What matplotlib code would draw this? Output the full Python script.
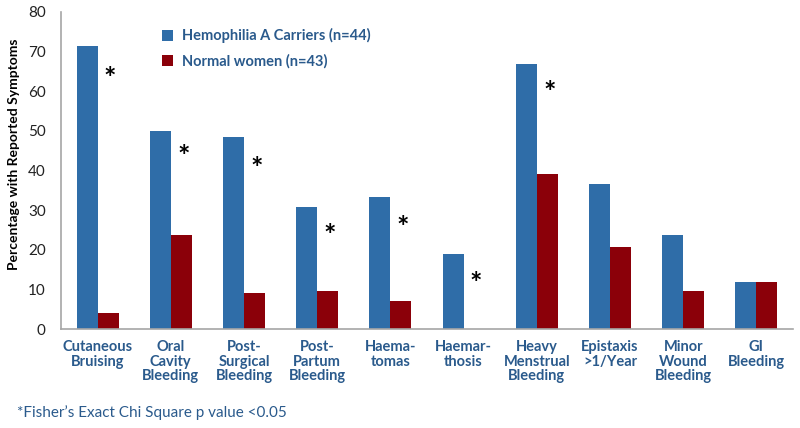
import matplotlib
matplotlib.use("Agg")
import matplotlib.pyplot as plt
import numpy as np

categories = ["Cutaneous\nBruising", "Oral\nCavity\nBleeding", "Post-\nSurgical\nBleeding",
              "Post-\nPartum\nBleeding", "Haema-\ntomas", "Haemar-\nthosis",
              "Heavy\nMenstrual\nBleeding", "Epistaxis\n>1/Year", "Minor\nWound\nBleeding",
              "GI\nBleeding"]
carriers = [71.4, 50.0, 48.4, 30.9, 33.3, 19.0, 66.9, 36.6, 23.8, 11.9]
normal = [4.0, 23.8, 9.1, 9.7, 7.0, 0.0, 39.1, 20.6, 9.5, 11.9]
star_height = [63, 43.5, 40.5, 23.5, 25.5, 11.5, 59.5, None, None, None]
yticks = [0, 10, 20, 30, 40, 50, 60, 70, 80]

blue = "#2F6DA8"
red = "#8B0009"
label_blue = "#2A5A8C"

plt.rcParams['font.family'] = ['Lato', 'DejaVu Sans']

fig = plt.figure(figsize=(8, 4.28), dpi=100)
ax = fig.add_axes([0.07625, 0.231, 0.915, 0.741])

x = np.arange(len(categories))
w = 0.287
ax.bar(x - w / 2, carriers, w, color=blue, label="Hemophilia A Carriers (n=44)")
ax.bar(x + w / 2, normal, w, color=red, label="Normal women (n=43)")

for xi, s in zip(x, star_height):
    if s is not None:
        ax.text(xi + 0.17, s, "*", ha="center", va="center", fontsize=21,
                fontweight="bold", color="black")

ax.set_xlim(-0.5, len(categories) - 0.5)
ax.set_ylim(0, 80)
ax.set_yticks(yticks)
ax.set_yticklabels([str(t) for t in yticks], fontsize=11, color="#222222")
ax.set_xticks(x)
ax.set_xticklabels(categories, fontsize=10.5, fontweight="bold", color=label_blue,
                   linespacing=1.05)
ax.tick_params(axis="both", length=0)
ax.tick_params(axis="y", pad=11)
ax.tick_params(axis="x", pad=8)
for sp in ["top", "right"]:
    ax.spines[sp].set_visible(False)
for sp in ["left", "bottom"]:
    ax.spines[sp].set_color("#A6A6A6")
    ax.spines[sp].set_linewidth(1.2)

ax.set_ylabel("Percentage with Reported Symptoms", fontsize=10, fontweight="bold",
              color="black")
ax.yaxis.set_label_coords(-0.056, 0.55)

leg = ax.legend(loc="upper left", bbox_to_anchor=(0.12, 0.99), frameon=False,
                fontsize=10.5, handlelength=0.75, handleheight=0.75, labelspacing=0.75,
                handletextpad=0.6)
for t in leg.get_texts():
    t.set_color(label_blue)
    t.set_fontweight("bold")

fig.text(0.021, 0.035, "*Fisher\u2019s Exact Chi Square p value <0.05", fontsize=11,
         color=label_blue, ha="left", va="center")

fig.savefig("out.png", dpi=100)
